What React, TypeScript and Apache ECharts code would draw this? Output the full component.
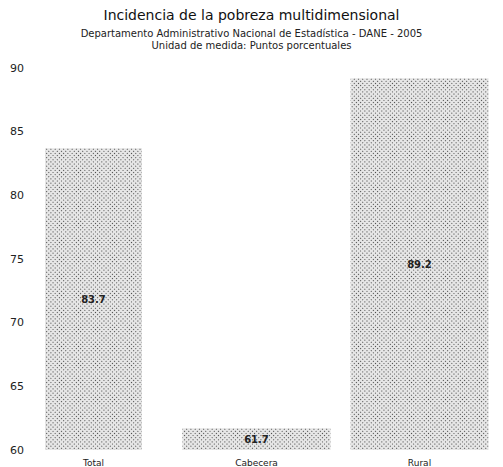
import React, { useEffect, useRef } from "react";
import * as echarts from "echarts";

const categories = ["Total", "Cabecera", "Rural"];
const values = [83.7, 61.7, 89.2];
const yTicks = { min: 60, max: 90, interval: 5 };
const titleText = "Incidencia de la pobreza multidimensional";
const subtitleText =
  "Departamento Administrativo Nacional de Estadística - DANE - 2005\nUnidad de medida: Puntos porcentuales";

const barWidths = [97, 148, 138];

export default function App() {
  const ref = useRef<HTMLDivElement>(null);
  useEffect(() => {
    document.body.style.margin = "0";
    const chart = echarts.init(ref.current!, null, { renderer: "svg" });
    const decal = {
      symbol: "rect",
      symbolSize: 1,
      color: "rgba(30,30,30,0.8)",
      dashArrayX: [1, 1.5],
      dashArrayY: [1, 1.5],
      rotation: Math.PI / 4,
    };
    const xAxes = categories.map((_, i) => ({
      type: "category",
      data: categories,
      show: i === 0,
      axisLine: { show: false },
      axisTick: { show: false },
      axisLabel: { fontFamily: "DejaVu Sans", fontSize: 9, color: "#222", margin: 8 },
    }));
    const series = categories.map((c, i) => ({
      type: "bar",
      name: c,
      xAxisIndex: i,
      data: categories.map((_, j) => (j === i ? values[i] : null)),
      barWidth: barWidths[i],
      itemStyle: { color: "#e6e6e6", decal },
      label: {
        show: true,
        position: "inside",
        formatter: (p: any) => Number(p.value).toFixed(1),
        color: "#222",
        fontSize: 10,
        fontWeight: "bold",
        fontFamily: "DejaVu Sans",
      },
    }));
    chart.setOption({
      animation: false,
      backgroundColor: "#fff",
      title: {
        text: titleText,
        subtext: subtitleText,
        left: "center",
        top: 3,
        itemGap: 5,
        textStyle: { fontFamily: "DejaVu Sans", fontSize: 14, fontWeight: "normal", color: "#111" },
        subtextStyle: { fontFamily: "DejaVu Sans", fontSize: 10, color: "#222", lineHeight: 12 },
      },
      grid: { left: 12, right: 2, top: 68, bottom: 15 },
      xAxis: xAxes,
      yAxis: {
        type: "value",
        min: yTicks.min,
        max: yTicks.max,
        interval: yTicks.interval,
        axisLine: { show: false },
        axisTick: { show: false },
        splitLine: { show: false },
        axisLabel: { inside: true, margin: -2, fontFamily: "DejaVu Sans", fontSize: 11, color: "#222" },
      },
      series,
    });
    return () => chart.dispose();
  }, []);
  return <div ref={ref} style={{ width: 503, height: 467 }} />;
}
